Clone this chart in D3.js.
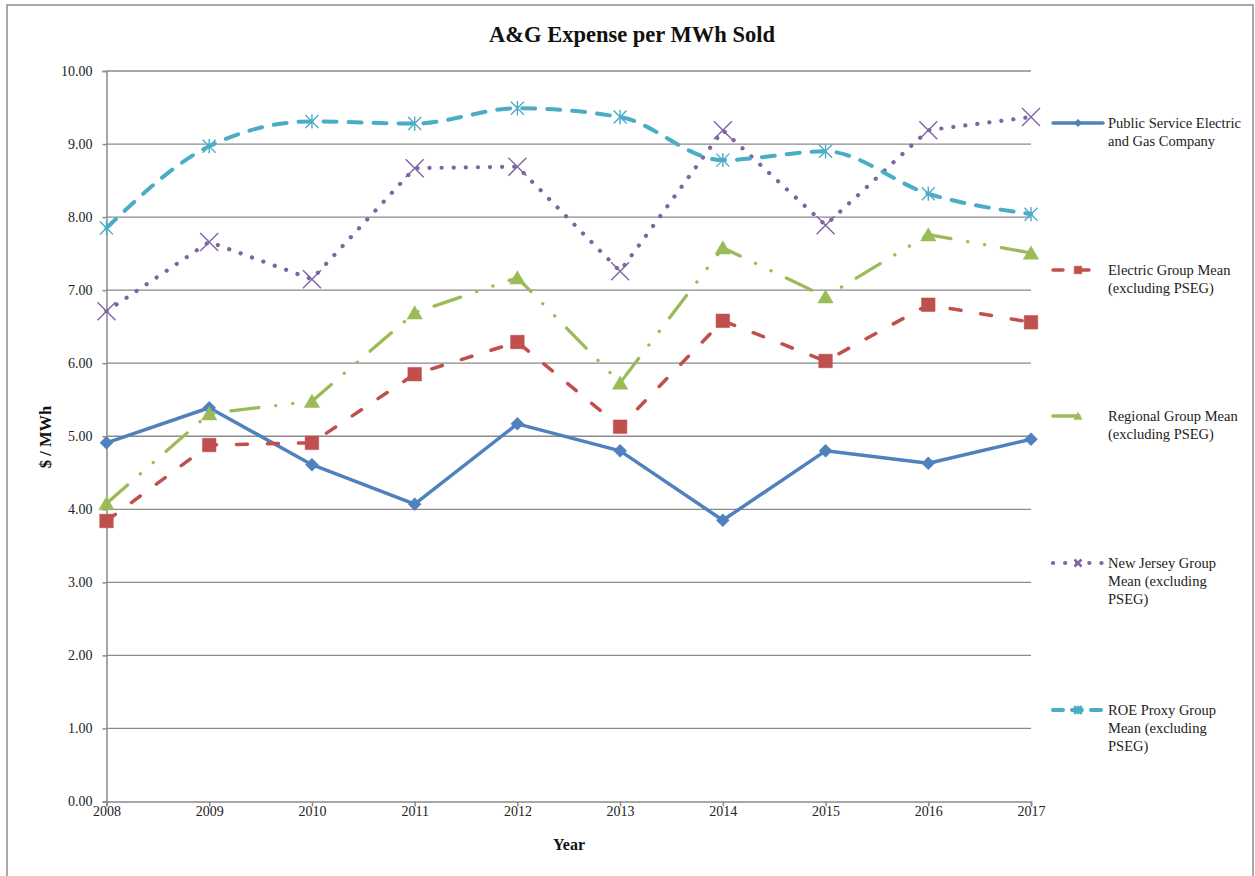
<!DOCTYPE html>
<html>
<head>
<meta charset="utf-8">
<script src="https://cdn.jsdelivr.net/npm/d3@7"></script>
<style>
  body { margin: 0; background: #fff; }
  svg { display: block; }
  svg text { font-family: "Liberation Serif", "DejaVu Serif", serif; }
</style>
</head>
<body>
<svg width="1255" height="876"></svg>
<script>
// data
const years = [2008, 2009, 2010, 2011, 2012, 2013, 2014, 2015, 2016, 2017];
const pseg     = [4.91, 5.39, 4.61, 4.07, 5.17, 4.80, 3.85, 4.80, 4.63, 4.96];
const electric = [3.84, 4.88, 4.91, 5.85, 6.29, 5.13, 6.58, 6.03, 6.80, 6.56];
const regional = [4.08, 5.31, 5.48, 6.69, 7.17, 5.73, 7.58, 6.91, 7.76, 7.51];
const newJersey = [6.71, 7.66, 7.15, 8.67, 8.69, 7.26, 9.19, 7.89, 9.19, 9.37];
const roeProxy = [7.85, 8.97, 9.31, 9.28, 9.49, 9.37, 8.78, 8.90, 8.32, 8.04];
const yTicks = [0, 1, 2, 3, 4, 5, 6, 7, 8, 9, 10];

const series = [
  { name: ["Public Service Electric", "and Gas Company"], values: pseg,
    color: "#4F81BD", width: 3.5, dash: null, legendDash: null, marker: "diamond", smooth: false, legendY: 123 },
  { name: ["Electric Group Mean", "(excluding PSEG)"], values: electric,
    color: "#C0504D", width: 3.5, dash: "11 20", legendDash: "10 16", marker: "square", smooth: false, legendY: 270 },
  { name: ["Regional Group Mean", "(excluding PSEG)"], values: regional,
    color: "#9BBB59", width: 3.3, dash: "28 17 0.1 17 0.1 17", legendDash: "26 26 0.1 20", marker: "triangle", smooth: false, legendY: 416 },
  { name: ["New Jersey Group", "Mean (excluding", "PSEG)"], values: newJersey,
    color: "#8064A2", width: 4.2, dash: "0.1 12", legendDash: "0.1 12", marker: "cross", smooth: false, legendY: 563 },
  { name: ["ROE Proxy Group", "Mean (excluding", "PSEG)"], values: roeProxy,
    color: "#4BACC6", width: 4, dash: "13 12", legendDash: "10 9", marker: "star", smooth: true, legendY: 710 }
];

const svg = d3.select("svg");

// outer frame
svg.append("rect")
  .attr("x", 7).attr("y", 5)
  .attr("width", 1246).attr("height", 880)
  .attr("fill", "none")
  .attr("stroke", "#8c8c8c")
  .attr("stroke-width", 1.5);

const x = d3.scaleLinear().domain([2008, 2017]).range([106.5, 1031]);
const y = d3.scaleLinear().domain([0, 10]).range([801.5, 71]);

// gridlines
svg.append("g")
  .selectAll("line")
  .data(yTicks.filter(d => d > 0))
  .join("line")
  .attr("x1", x(2008)).attr("x2", x(2017))
  .attr("y1", d => y(d)).attr("y2", d => y(d))
  .attr("stroke", "#8a8a8a")
  .attr("stroke-width", 1.3);

const yAxis = svg.append("g")
  .attr("transform", `translate(${x(2008)},0)`)
  .call(d3.axisLeft(y).tickValues(yTicks).tickFormat(d3.format(".2f")).tickSize(4).tickPadding(10));

const xAxis = svg.append("g")
  .attr("transform", `translate(0,${y(0)})`)
  .call(d3.axisBottom(x).tickValues(years).tickFormat(d => d).tickSize(5).tickPadding(0));

[yAxis, xAxis].forEach(a => {
  a.attr("font-family", null);
  a.selectAll("path, line").attr("stroke", "#8a8a8a").attr("stroke-width", 1.5);
  a.selectAll("text")
    .attr("fill", "#222")
    .style("font-size", "14px");
});

// markers
function markerPath(type, s) {
  if (type === "diamond") return `M0,${-s}L${s},0L0,${s}L${-s},0Z`;
  if (type === "square") return `M${-s},${-s}H${s}V${s}H${-s}Z`;
  if (type === "triangle") return `M0,${-s}L${s * 1.1},${s * 0.9}L${-s * 1.1},${s * 0.9}Z`;
  if (type === "cross") return `M${-s},${-s}L${s},${s}M${-s},${s}L${s},${-s}`;
  if (type === "star") return `M${-s},${-s}L${s},${s}M${-s},${s}L${s},${-s}M0,${-s * 1.1}L0,${s * 1.1}`;
}
const markerSize = { diamond: 6.5, square: 6.8, triangle: 7, cross: 9, star: 6.5 };
const lineMarker = { cross: true, star: true };

series.forEach(s => {
  const pts = years.map((yr, i) => [yr, s.values[i]]);
  const line = d3.line()
    .x(d => x(d[0]))
    .y(d => y(d[1]))
    .curve(s.smooth ? d3.curveMonotoneX : d3.curveLinear);

  svg.append("path")
    .datum(pts)
    .attr("d", line)
    .attr("fill", "none")
    .attr("stroke", s.color)
    .attr("stroke-width", s.width)
    .attr("stroke-linecap", s.dash ? "round" : "butt")
    .attr("stroke-linejoin", "round")
    .attr("stroke-dasharray", s.dash);

  svg.append("g")
    .selectAll("path")
    .data(pts)
    .join("path")
    .attr("transform", d => `translate(${x(d[0])},${y(d[1])})`)
    .attr("d", markerPath(s.marker, markerSize[s.marker]))
    .attr("fill", lineMarker[s.marker] ? "none" : s.color)
    .attr("stroke", s.color)
    .attr("stroke-width", lineMarker[s.marker] ? 1.4 : 0.5);
});

// legend
const legend = svg.append("g");
series.forEach(s => {
  const g = legend.append("g").attr("transform", `translate(0,${s.legendY})`);
  g.append("line")
    .attr("x1", 1053).attr("x2", 1103)
    .attr("stroke", s.color)
    .attr("stroke-width", s.width)
    .attr("stroke-linecap", "round")
    .attr("stroke-dasharray", s.legendDash);
  g.append("path")
    .attr("transform", "translate(1078,0)")
    .attr("d", markerPath(s.marker, s.marker === "cross" ? 3.5 : 3.8))
    .attr("fill", lineMarker[s.marker] ? "none" : s.color)
    .attr("stroke", s.color)
    .attr("stroke-width", lineMarker[s.marker] ? 2.5 : 0.5);
  g.append("text")
    .attr("x", 1108)
    .attr("y", 0)
    .attr("font-size", "14.5px")
    .attr("fill", "#222")
    .selectAll("tspan")
    .data(s.name)
    .join("tspan")
    .attr("x", 1108)
    .attr("dy", (d, i) => i === 0 ? "0.35em" : "18px")
    .text(d => d);
});

// titles
svg.append("text")
  .attr("x", 632).attr("y", 42)
  .attr("text-anchor", "middle")
  .attr("font-weight", "bold")
  .attr("font-size", "22.5px")
  .attr("fill", "#111")
  .text("A&G Expense per MWh Sold");

svg.append("text")
  .attr("x", 569).attr("y", 850)
  .attr("text-anchor", "middle")
  .attr("font-weight", "bold")
  .attr("font-size", "16px")
  .attr("fill", "#111")
  .text("Year");

svg.append("text")
  .attr("transform", "translate(51,437) rotate(-90)")
  .attr("text-anchor", "middle")
  .attr("font-weight", "bold")
  .attr("font-size", "16.5px")
  .attr("fill", "#111")
  .text("$ / MWh");
</script>
</body>
</html>
